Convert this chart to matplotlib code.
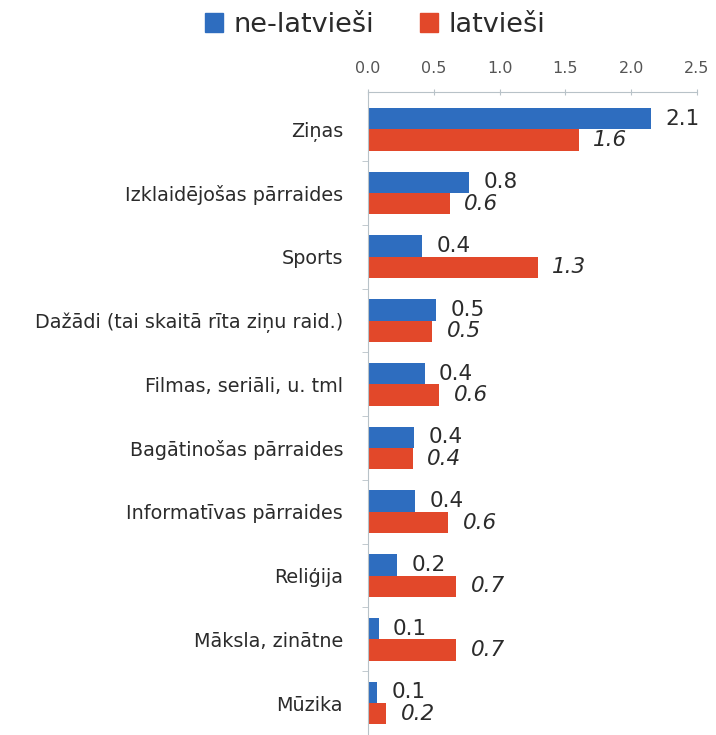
import numpy as np
import matplotlib.pyplot as plt
from matplotlib.patches import Patch

plt.rcParams['font.family'] = ['DejaVu Sans']

# categories and values
categories = ['Ziņas', 'Izklaidējošas pārraides', 'Sports',
              'Dažādi (tai skaitā rīta ziņu raid.)', 'Filmas, seriāli, u. tml',
              'Bagātinošas pārraides', 'Informatīvas pārraides', 'Reliģija',
              'Māksla, zinātne', 'Mūzika']
ne_latviesi = [2.15, 0.77, 0.41, 0.52, 0.43, 0.35, 0.36, 0.22, 0.08, 0.07]
latviesi = [1.60, 0.62, 1.29, 0.49, 0.54, 0.34, 0.61, 0.67, 0.67, 0.14]
ne_labels = ['2.1', '0.8', '0.4', '0.5', '0.4', '0.4', '0.4', '0.2', '0.1', '0.1']
lv_labels = ['1.6', '0.6', '1.3', '0.5', '0.6', '0.4', '0.6', '0.7', '0.7', '0.2']
xticks = [0.0, 0.5, 1.0, 1.5, 2.0, 2.5]

blue = '#2e6dbf'
red = '#e2482a'
txt = '#2b2b2b'
axis_col = '#b8c2c8'

fig = plt.figure(figsize=(7.16, 7.35), dpi=100)
ax = fig.add_axes([368 / 716, 0.0, 329 / 716, 1 - 92 / 735])

y = np.arange(len(categories))
h = 0.335
ax.barh(y - h / 2, ne_latviesi, height=h, color=blue)
ax.barh(y + h / 2, latviesi, height=h, color=red)

for i in range(len(categories)):
    ax.text(ne_latviesi[i] + 0.11, y[i] - h / 2, ne_labels[i], va='center', ha='left',
            fontsize=15.5, color=txt)
    ax.text(latviesi[i] + 0.11, y[i] + h / 2, lv_labels[i], va='center', ha='left',
            fontsize=15.5, color=txt, style='italic')

ax.set_xlim(0, 2.5)
ax.set_ylim(9.445, -0.585)
ax.xaxis.tick_top()
ax.set_xticks(xticks)
ax.set_xticklabels([f'{t:.1f}' for t in xticks], fontsize=11.5, color='#555555')
ax.tick_params(axis='x', direction='inout', length=5, color=axis_col, pad=9)

ax.set_yticks(y)
ax.set_yticklabels(categories, fontsize=13.8, color=txt)
ax.set_yticks(np.arange(len(categories)) + 0.5, minor=True)
ax.tick_params(axis='y', which='major', length=0, pad=18)
ax.tick_params(axis='y', which='minor', length=4, color=axis_col)

for s in ['right', 'bottom']:
    ax.spines[s].set_visible(False)
for s in ['left', 'top']:
    ax.spines[s].set_color(axis_col)

handles = [Patch(color=blue, label='ne-latvieši'), Patch(color=red, label='latvieši')]
fig.legend(handles=handles, loc='center', bbox_to_anchor=(0.524, 0.966), ncol=2,
           frameon=False, fontsize=19.5, handlelength=0.65, handleheight=0.65,
           handletextpad=0.4, columnspacing=1.7, labelcolor=txt)

fig.savefig('out.png', dpi=100)
